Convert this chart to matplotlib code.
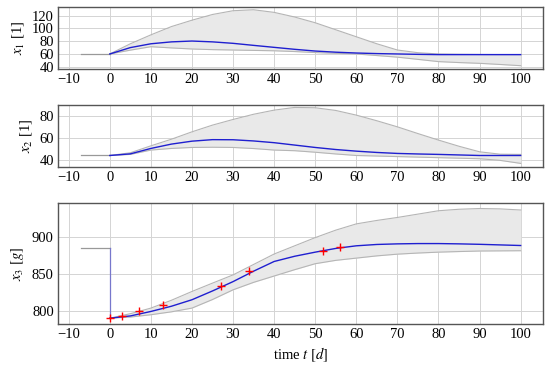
import matplotlib
matplotlib.use("Agg")
import matplotlib.pyplot as plt

# time grid for the bands and the mean curves
t = [0, 5, 10, 15, 20, 25, 30, 35, 40, 45, 50, 55, 60, 65, 70, 75, 80, 85, 90, 95, 100]
t_pre = [-7, 0]

# x1
x1_pre = [60, 60]
x1_mean = [60, 70, 76, 79, 80.3, 79, 76.7, 73.5, 70.4, 67.3, 64.6, 62.8, 61.5, 60.6, 60, 59.4, 59, 59, 59, 59, 59]
x1_upper = [60, 76, 90, 103, 113, 122, 127.9, 129.4, 125.3, 118, 109, 98, 87, 76, 66.2, 62, 60, 59.5, 59.2, 59, 59]
x1_lower = [60, 66, 71.4, 69.5, 67.8, 66.8, 66.2, 65.6, 65, 63.8, 62.2, 61, 60, 57.5, 55, 51.5, 48, 46.5, 45.3, 43.5, 41.6]

# x2
x2_pre = [44, 44]
x2_mean = [44, 45.5, 50.5, 54.5, 57.2, 58.6, 58.5, 57.4, 55.8, 53.6, 51.4, 49.5, 48, 46.8, 45.9, 45.4, 45, 44.5, 44, 44, 44]
x2_upper = [44, 46.5, 52.9, 59, 65.8, 72, 77.2, 82, 85.8, 88.3, 88, 85.5, 81.2, 76, 70.4, 64.2, 58.2, 52.5, 47.4, 45.2, 45]
x2_lower = [44, 45, 49, 50.5, 51.4, 51.6, 51.4, 50.4, 49, 48.4, 47, 45.4, 44, 43.5, 43, 42.5, 42, 41.5, 41, 39.5, 36.7]

# x3
x3_pre = [885, 885]
x3_mean = [791, 794, 800, 807, 815.7, 827.5, 840, 854, 867, 874, 879.5, 884.5, 888, 889.8, 890.6, 891, 891, 890.6, 890, 889.2, 888.4]
x3_upper = [791, 797, 804.5, 815, 826.8, 838, 849, 863, 877, 888, 899, 909, 917.4, 922, 926, 930.5, 935, 937, 938, 937.5, 936]
x3_lower = [791, 792.5, 795.6, 799.5, 804.5, 816, 829, 839, 847.5, 856, 864, 868.5, 871.5, 874.5, 876.8, 878.3, 879.5, 880.3, 881, 881.2, 881.4]

# measured x3
meas_t = [0, 3, 7, 13, 27, 34, 52, 56]
meas_x3 = [791, 793.3, 800, 809, 833.5, 854.5, 881.7, 886]

xticks = [-10, 0, 10, 20, 30, 40, 50, 60, 70, 80, 90, 100]

plt.rcParams['font.family'] = ['Liberation Serif', 'DejaVu Serif']
plt.rcParams['mathtext.fontset'] = 'stix'
plt.rcParams['font.size'] = 10.5

BLUE = '#1f1fd0'
EDGE = '#b5b5b5'
FILL = '#e9e9e9'
FRAME = '#555555'

fig = plt.figure(figsize=(5.5, 3.73), dpi=100)
left, width = 0.1055, 0.8815
ax1 = fig.add_axes([left, 0.815, width, 0.166])
ax2 = fig.add_axes([left, 0.552, width, 0.167])
ax3 = fig.add_axes([left, 0.131, width, 0.324])


def style(ax, ylim, yticks, ylabel):
    ax.set_xlim(-12.6, 105.4)
    ax.set_ylim(*ylim)
    ax.set_xticks(xticks)
    ax.set_xticklabels([str(v).replace('-', '\u2212') for v in xticks])
    ax.set_yticks(yticks)
    ax.grid(True, color='#d4d4d4', linewidth=0.7)
    ax.set_axisbelow(True)
    ax.tick_params(length=0, pad=3)
    for s in ax.spines.values():
        s.set_color(FRAME)
        s.set_linewidth(1.0)
    ax.set_ylabel(ylabel, labelpad=4)


def band(ax, pre, mean, upper, lower):
    ax.fill_between(t, lower, upper, color=FILL, linewidth=0, zorder=1)
    ax.plot(t, upper, color=EDGE, linewidth=0.8, zorder=2)
    ax.plot(t, lower, color=EDGE, linewidth=0.8, zorder=2)
    ax.plot(t_pre, pre, color='#999999', linewidth=0.9, zorder=2)
    ax.plot(t, mean, color=BLUE, linewidth=1.0, zorder=3)


band(ax1, x1_pre, x1_mean, x1_upper, x1_lower)
style(ax1, (36.4, 133.6), [40, 60, 80, 100, 120], r'$x_1$ [1]')

band(ax2, x2_pre, x2_mean, x2_upper, x2_lower)
style(ax2, (33.3, 90.7), [40, 60, 80], r'$x_2$ [1]')

band(ax3, x3_pre, x3_mean, x3_upper, x3_lower)
ax3.plot([0, 0], [x3_pre[-1], x3_mean[0]], color='#7777cc', linewidth=0.9, zorder=2)
ax3.plot(meas_t, meas_x3, linestyle='none', marker='+', color='red',
         markersize=6, markeredgewidth=1.0, zorder=4)
style(ax3, (783, 945), [800, 850, 900], r'$x_3$ $[g]$')
ax3.set_xlabel(r'time $t$ $[d]$', labelpad=3)

fig.savefig('out.png', dpi=100)
